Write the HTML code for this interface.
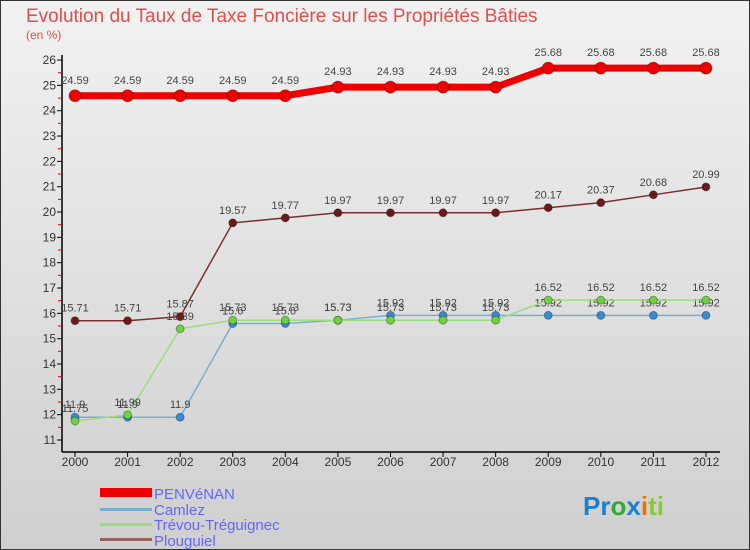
<!DOCTYPE html>
<html><head><meta charset="utf-8"><style>
body{margin:0;width:750px;height:550px;overflow:hidden;font-family:"Liberation Sans",sans-serif}
svg{display:block}
</style></head><body>
<svg id="c" width="750" height="550" xmlns="http://www.w3.org/2000/svg">
<defs><linearGradient id="bg" x1="0" y1="0" x2="0" y2="1"><stop offset="0" stop-color="#f2f2f2"/><stop offset="1" stop-color="#cfcfcf"/></linearGradient></defs>
<rect x="0.5" y="0.5" width="749" height="549" fill="url(#bg)" stroke="#333"/>
<text x="26" y="22" font-size="19" fill="#e0504a">Evolution du Taux de Taxe Foncière sur les Propriétés Bâties</text>
<text x="26" y="39" font-size="12" fill="#e0504a">(en %)</text>
<g id="axes"></g><g id="series"></g>
<g>
<rect x="100" y="488" width="52" height="9" fill="#e00"/>
<text x="154" y="499" font-size="15" fill="#66f">PENVéNAN</text>
<rect x="100" y="508" width="52" height="3" fill="#7aaed0"/>
<text x="154" y="515" font-size="15" fill="#66f">Camlez</text>
<rect x="100" y="523" width="52" height="3" fill="#9edc80"/>
<text x="154" y="530" font-size="15" fill="#66f">Trévou-Tréguignec</text>
<rect x="100" y="538" width="52" height="3" fill="#946060"/>
<text x="154" y="546" font-size="15" fill="#66f">Plouguiel</text>
</g>
<text x="583" y="515" font-size="26" font-weight="bold"><tspan fill="#1c7fd0">Pr</tspan><tspan fill="#3a3">o</tspan><tspan fill="#1c7fd0">x</tspan><tspan fill="#f07000">i</tspan><tspan fill="#8c3">ti</tspan></text>
</svg>
<script>
const years=[2000,2001,2002,2003,2004,2005,2006,2007,2008,2009,2010,2011,2012];
const penvenan=[24.59,24.59,24.59,24.59,24.59,24.93,24.93,24.93,24.93,25.68,25.68,25.68,25.68];
const camlez=[11.9,11.9,11.9,15.6,15.6,15.73,15.92,15.92,15.92,15.92,15.92,15.92,15.92];
const trevou=[11.75,11.99,15.39,15.73,15.73,15.73,15.73,15.73,15.73,16.52,16.52,16.52,16.52];
const plouguiel=[15.71,15.71,15.87,19.57,19.77,19.97,19.97,19.97,19.97,20.17,20.37,20.68,20.99];
const yTicks=[11,12,13,14,15,16,17,18,19,20,21,22,23,24,25,26];
const NS="http://www.w3.org/2000/svg";
const X=i=>75+i*52.58, Y=v=>440-(v-11)*25.33;
function el(t,a,p){const e=document.createElementNS(NS,t);for(const k in a)e.setAttribute(k,a[k]);p.appendChild(e);return e;}
const ax=document.getElementById('axes');
const yl=el('line',{x1:62,y1:55,x2:62,y2:452,stroke:'#000','stroke-width':1.5},ax);


const xl=el('line',{x1:62,y1:452,x2:720,y2:452,stroke:'#000','stroke-width':1.5},ax);


yTicks.forEach(v=>{
 el('line',{x1:57,x2:62,y1:Y(v),y2:Y(v),stroke:'#000'},ax);
 if(v<26)el('line',{x1:58,x2:62,y1:Y(v+0.5),y2:Y(v+0.5),stroke:'#e00'},ax);
 const t=el('text',{x:56,y:Y(v)+4,'font-size':12,'text-anchor':'end',fill:'#333'},ax);t.textContent=v;
 
 
});
years.forEach((y,i)=>{
 el('line',{x1:X(i),x2:X(i),y1:452,y2:457,stroke:'#000'},ax);
 const t=el('text',{x:X(i),y:466,'font-size':12,'text-anchor':'middle',fill:'#333'},ax);t.textContent=y;
 
 
});
const sg=document.getElementById('series');
function draw(vals,name,col,dot,w,r,dy){
 const g=el('g',{},sg);
 
 
 el('polyline',{points:vals.map((v,i)=>X(i)+','+Y(v)).join(' '),fill:'none',stroke:col,'stroke-width':w},g);
 vals.forEach((v,i)=>{
  const c=el('circle',{cx:X(i),cy:Y(v),r:r,fill:dot,stroke:'rgba(0,0,0,0.3)'},g);
  
  
  const t=el('text',{x:X(i),y:Y(v)+dy,'font-size':11,'text-anchor':'middle',fill:'#444'},g);t.textContent=v;
  
  
 });
}
draw(plouguiel,'plouguiel','#7a3030','#6a1a1a',1.5,4,-9);
draw(camlez,'camlez','#7aaed0','#3a8ad0',1.5,4,-9);
draw(trevou,'trevou','#9edc80','#70d040',1.5,4,-9);
draw(penvenan,'penvenan','#e00','#e00',7,6,-12);
</script>
</body></html>
